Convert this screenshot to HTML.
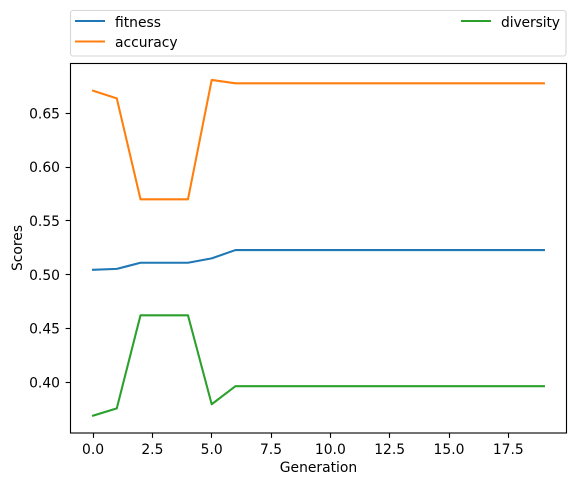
<!DOCTYPE html>
<html>
<head>
<meta charset="utf-8">
<style>
html,body{margin:0;padding:0;background:#fff;width:576px;height:486px;overflow:hidden}
svg{display:block}
text{font-family:"DejaVu Sans",sans-serif;font-size:13.89px;fill:#000}
</style>
</head>
<body>
<svg id="chart" xmlns="http://www.w3.org/2000/svg" width="576" height="486" viewBox="0 0 576 486">
  <rect x="70.5" y="10.5" width="495.5" height="45.5" rx="2.5" fill="#fff" stroke="#d6d6d6" stroke-width="1.1"/>
  <line x1="75" x2="105" y1="21" y2="21" stroke="#1f77b4" stroke-width="2.08"/>
  <text x="115" y="27">fitness</text>
  <line x1="75" x2="105" y1="41.5" y2="41.5" stroke="#ff7f0e" stroke-width="2.08"/>
  <text x="115" y="47">accuracy</text>
  <line x1="461" x2="491" y1="21" y2="21" stroke="#2ca02c" stroke-width="2.08"/>
  <text x="501" y="27" textLength="59">diversity</text>
  <g id="ticks"></g>
  <g id="series"></g>
  <rect x="70.5" y="63.5" width="496" height="369.5" fill="none" stroke="#000" stroke-width="1.11"/>
  <text x="318.5" y="472" text-anchor="middle">Generation</text>
  <text transform="translate(22 248) rotate(-90)" text-anchor="middle">Scores</text>
</svg>
<script>
const generations = [0,1,2,3,4,5,6,7,8,9,10,11,12,13,14,15,16,17,18,19];
const fitness = [0.5045,0.5053,0.511,0.511,0.511,0.5151,0.5228,0.5228,0.5228,0.5228,0.5228,0.5228,0.5228,0.5228,0.5228,0.5228,0.5228,0.5228,0.5228,0.5228];
const accuracy = [0.6709,0.6638,0.57,0.57,0.57,0.6809,0.6778,0.6778,0.6778,0.6778,0.6778,0.6778,0.6778,0.6778,0.6778,0.6778,0.6778,0.6778,0.6778,0.6778];
const diversity = [0.3689,0.3757,0.4622,0.4622,0.4622,0.3795,0.3963,0.3963,0.3963,0.3963,0.3963,0.3963,0.3963,0.3963,0.3963,0.3963,0.3963,0.3963,0.3963,0.3963];
const xTicks = ["0.0","2.5","5.0","7.5","10.0","12.5","15.0","17.5"];
const yTicks = ["0.40","0.45","0.50","0.55","0.60","0.65"];

const NS = 'http://www.w3.org/2000/svg';
function xScale(v){ return 93.05 + v * 23.73; }
function yScale(v){ return 382.2 - (v - 0.40) * 1076; }

const tickGroup = document.getElementById('ticks');
const seriesGroup = document.getElementById('series');

xTicks.forEach(function(label){
  const px = xScale(parseFloat(label));
  const tick = document.createElementNS(NS, 'line');
  
  
  tick.setAttribute('x1', Math.floor(px) + 0.5);
  tick.setAttribute('x2', Math.floor(px) + 0.5);
  tick.setAttribute('y1', 433);
  tick.setAttribute('y2', 437.9);
  tick.setAttribute('stroke', '#000');
  tick.setAttribute('stroke-width', 1.11);
  tickGroup.appendChild(tick);
  const text = document.createElementNS(NS, 'text');
  
  
  text.setAttribute('x', px);
  text.setAttribute('y', 454);
  text.setAttribute('text-anchor', 'middle');
  text.textContent = label;
  tickGroup.appendChild(text);
});

yTicks.forEach(function(label){
  const py = yScale(parseFloat(label));
  const tick = document.createElementNS(NS, 'line');
  
  
  tick.setAttribute('x1', 65.6);
  tick.setAttribute('x2', 70.5);
  tick.setAttribute('y1', Math.floor(py) + 0.5);
  tick.setAttribute('y2', Math.floor(py) + 0.5);
  tick.setAttribute('stroke', '#000');
  tick.setAttribute('stroke-width', 1.11);
  tickGroup.appendChild(tick);
  const text = document.createElementNS(NS, 'text');
  
  
  text.setAttribute('x', 60);
  text.setAttribute('y', py + 5.2);
  text.setAttribute('text-anchor', 'end');
  text.textContent = label;
  tickGroup.appendChild(text);
});

function drawSeries(values, color, name){
  const line = document.createElementNS(NS, 'polyline');
  
  
  line.setAttribute('points', values.map(function(v, i){
    return xScale(generations[i]) + ',' + yScale(v);
  }).join(' '));
  line.setAttribute('fill', 'none');
  line.setAttribute('stroke', color);
  line.setAttribute('stroke-width', 2.08);
  line.setAttribute('stroke-linejoin', 'round');
  line.setAttribute('stroke-linecap', 'square');
  seriesGroup.appendChild(line);
}
drawSeries(fitness, '#1f77b4', 'fitness-line');
drawSeries(accuracy, '#ff7f0e', 'accuracy-line');
drawSeries(diversity, '#2ca02c', 'diversity-line');
</script>
</body>
</html>
